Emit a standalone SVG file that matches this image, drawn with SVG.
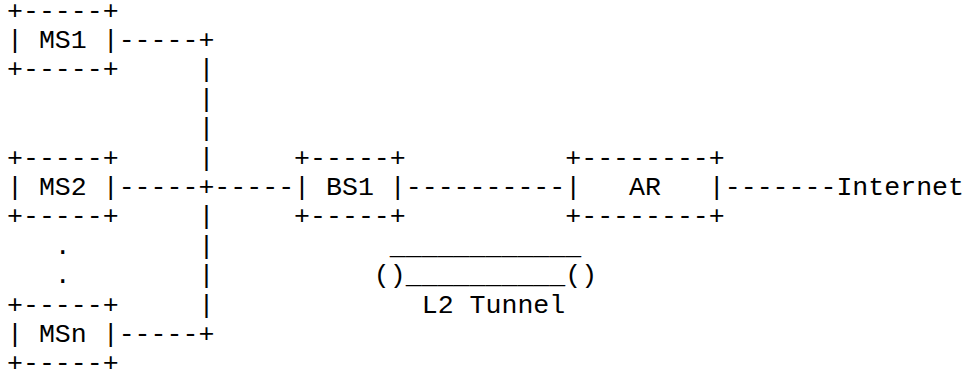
<svg xmlns="http://www.w3.org/2000/svg" width="968" height="372" viewBox="0 0 968 372">
<style>
text{font-family:"Liberation Mono","Courier New",monospace;font-size:26.58px;fill:#000;white-space:pre}
</style>
<rect width="968" height="372" fill="#fff"/>
<g id="connectors" xml:space="preserve">
<text x="118.65" y="47.9">-----+</text>
<text x="198.4" y="77.3">|</text>
<text x="198.4" y="106.7">|</text>
<text x="198.4" y="136.1">|</text>
<text x="198.4" y="165.5">|</text>
<text x="118.65" y="194.9">-----+-----</text>
<text x="198.4" y="224.3">|</text>
<text x="198.4" y="253.7">|</text>
<text x="198.4" y="283.1">|</text>
<text x="198.4" y="312.5">|</text>
<text x="118.65" y="341.9">-----+</text>
<text x="405.75" y="194.9">----------</text>
<text x="724.75" y="194.9">-------</text>
</g>
<g id="MS1" xml:space="preserve">
<text x="7" y="18.5">+-----+</text>
<text x="7" y="47.9">| MS1 |</text>
<text x="7" y="77.3">+-----+</text>
</g>
<g id="MS2" xml:space="preserve">
<text x="7" y="165.5">+-----+</text>
<text x="7" y="194.9">| MS2 |</text>
<text x="7" y="224.3">+-----+</text>
</g>
<g id="ellipsis">
<text x="54.85" y="253.7">.</text>
<text x="54.85" y="283.1">.</text>
</g>
<g id="MSn" xml:space="preserve">
<text x="7" y="312.5">+-----+</text>
<text x="7" y="341.9">| MSn |</text>
<text x="7" y="371.3">+-----+</text>
</g>
<g id="BS1" xml:space="preserve">
<text x="294.1" y="165.5">+-----+</text>
<text x="294.1" y="194.9">| BS1 |</text>
<text x="294.1" y="224.3">+-----+</text>
</g>
<g id="AR" xml:space="preserve">
<text x="565.25" y="165.5">+--------+</text>
<text x="565.25" y="194.9">|   AR   |</text>
<text x="565.25" y="224.3">+--------+</text>
</g>
<g id="Internet">
<text x="836.4" y="194.9">Internet</text>
</g>
<g id="L2Tunnel" xml:space="preserve">
<text x="389.8" y="253.7">____________</text>
<text x="373.85" y="283.1">()__________()</text>
<text x="421.7" y="312.5">L2 Tunnel</text>
</g>
</svg>
